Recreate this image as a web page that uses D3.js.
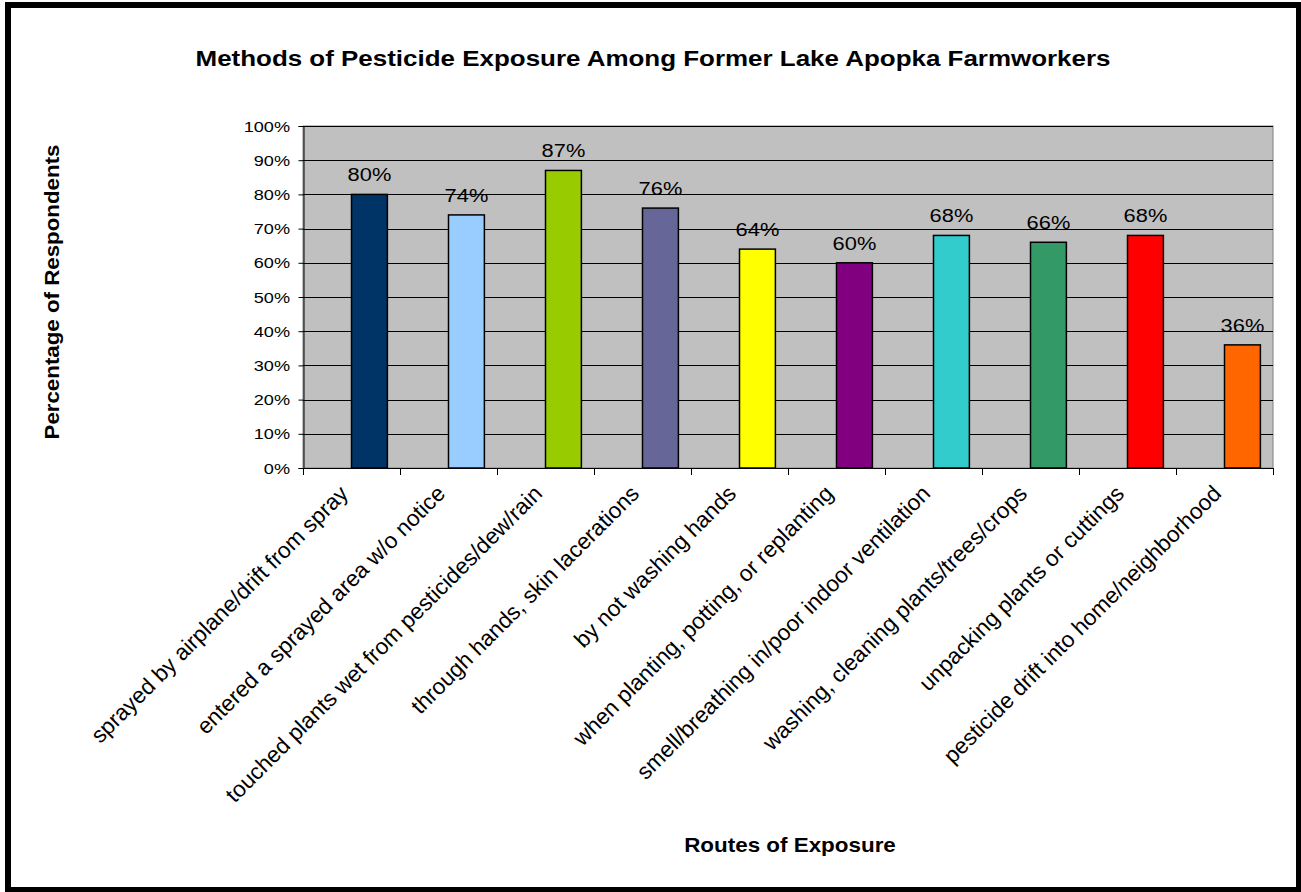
<!DOCTYPE html>
<html>
<head>
<meta charset="utf-8">
<script src="https://cdn.jsdelivr.net/npm/d3@7"></script>
<style>
  html, body { margin: 0; padding: 0; background: #fff; }
  svg { display: block; }
  text { font-family: Arial, "Liberation Sans", sans-serif; fill: #000; }
</style>
</head>
<body>
<svg id="chart" width="1301" height="892"></svg>
<script>
// Exposure routes and share of respondents reporting each one
const categories = [
  "sprayed by airplane/drift from spray",
  "entered a sprayed area w/o notice",
  "touched plants wet from pesticides/dew/rain",
  "through hands, skin lacerations",
  "by not washing hands",
  "when planting, potting, or replanting",
  "smell/breathing in/poor indoor ventilation",
  "washing, cleaning plants/trees/crops",
  "unpacking plants or cuttings",
  "pesticide drift into home/neighborhood"
];
const percentages = [80, 74, 87, 76, 64, 60, 68, 66, 68, 36];
const barColors = ["#003366", "#99CCFF", "#99CC00", "#666699", "#FFFF00",
                   "#800080", "#33CCCC", "#339966", "#FF0000", "#FF6600"];
const yTicks = [0, 10, 20, 30, 40, 50, 60, 70, 80, 90, 100];

const svg = d3.select("#chart");

// Outer frame
svg.append("rect")
  .attr("x", 8).attr("y", 5).attr("width", 1291).attr("height", 885)
  .attr("fill", "#fff").attr("stroke", "#000").attr("stroke-width", 6);

// Plot area geometry
const plot = { left: 303, right: 1273, top: 126, bottom: 468 };

const x = d3.scaleBand()
  .domain(categories)
  .range([plot.left, plot.right])
  .paddingInner(0).paddingOuter(0);

const y = d3.scaleLinear().domain([0, 100]).range([plot.bottom, plot.top]);

// Helper for horizontally widened text
function wideText(g, txt, cx, cy, size, sx, weight, anchor) {
  return g.append("text")
    .attr("transform", `translate(${cx},${cy}) scale(${sx},1)`)
    .attr("text-anchor", anchor || "middle")
    .attr("font-size", size)
    .attr("font-weight", weight || "normal")
    .text(txt);
}

// Plot background
svg.append("rect")
  .attr("x", plot.left).attr("y", plot.top)
  .attr("width", plot.right - plot.left).attr("height", plot.bottom - plot.top)
  .attr("fill", "#C0C0C0").attr("stroke", "#808080").attr("stroke-width", 1);

// Horizontal gridlines
svg.append("g")
  .selectAll("line")
  .data(yTicks.filter(d => d > 0))
  .join("line")
  .attr("x1", plot.left).attr("x2", plot.right)
  .attr("y1", d => Math.round(y(d)) + 0.5).attr("y2", d => Math.round(y(d)) + 0.5)
  .attr("stroke", "#000").attr("stroke-width", 1);

// Bars: each sits in the right half of its category slot
const bw = x.bandwidth();
const barWidth = bw * 0.37;
svg.append("g")
  .selectAll("rect")
  .data(percentages)
  .join("rect")
  .attr("x", (d, i) => x(categories[i]) + bw * 0.5)
  .attr("y", d => y(d))
  .attr("width", barWidth)
  .attr("height", d => y(0) - y(d))
  .attr("fill", (d, i) => barColors[i])
  .attr("stroke", "#000").attr("stroke-width", 1.5);

// Value labels
const labels = svg.append("g");
percentages.forEach((d, i) => {
  wideText(labels, d + "%", x(categories[i]) + bw * 0.5 + barWidth / 2, y(d) - 13, 19, 1.15);
});

// Y axis
const yAxis = d3.axisLeft(y)
  .tickValues(yTicks)
  .tickSize(5)
  .tickFormat(() => "");
const yg = svg.append("g").attr("transform", `translate(${plot.left + 0.5},0)`).call(yAxis);
yg.select(".domain").attr("stroke", "#000").attr("stroke-width", 1);
yg.selectAll(".tick line").attr("stroke", "#000");
const ylabels = svg.append("g");
yTicks.forEach(t => {
  wideText(ylabels, t + "%", 290, y(t) + 5.5, 15.5, 1.17, "normal", "end");
});

// X axis with ticks between categories
const xg = svg.append("g");
xg.append("line")
  .attr("x1", plot.left).attr("x2", plot.right)
  .attr("y1", plot.bottom + 0.5).attr("y2", plot.bottom + 0.5)
  .attr("stroke", "#000").attr("stroke-width", 1);
const boundaries = categories.map(c => x(c)).concat([plot.right]);
xg.selectAll("line.tick")
  .data(boundaries)
  .join("line")
  .attr("class", "tick")
  .attr("x1", d => Math.round(d) + 0.5).attr("x2", d => Math.round(d) + 0.5)
  .attr("y1", plot.bottom).attr("y2", plot.bottom + 7)
  .attr("stroke", "#000");

// Rotated category labels
xg.selectAll("text.cat")
  .data(categories)
  .join("text")
  .attr("class", "cat")
  .attr("text-anchor", "end")
  .attr("font-size", 22.5)
  .attr("transform", d => `translate(${x(d) + bw / 2 - 2},${plot.bottom + 27}) rotate(-45)`)
  .text(d => d);

// Titles
wideText(svg, "Methods of Pesticide Exposure Among Former Lake Apopka Farmworkers",
  653, 66, 22, 1.18, "bold");
wideText(svg, "Routes of Exposure", 790, 852, 19.5, 1.15, "bold");
svg.append("text")
  .attr("transform", "translate(59,292) rotate(-90)")
  .attr("text-anchor", "middle")
  .attr("font-size", 20)
  .attr("font-weight", "bold")
  .attr("textLength", 295)
  .attr("lengthAdjust", "spacingAndGlyphs")
  .text("Percentage of Respondents");
</script>
</body>
</html>
